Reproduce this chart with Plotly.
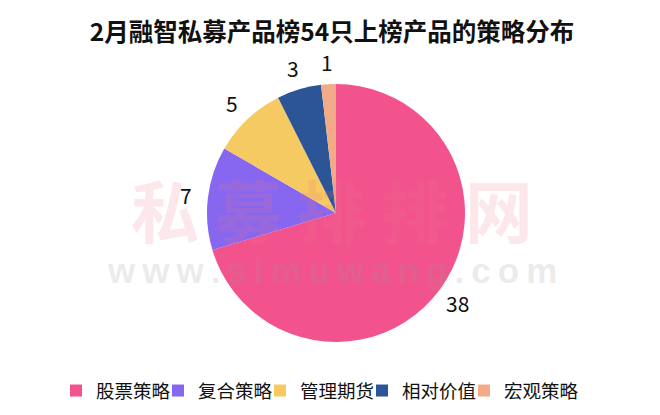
import math
import plotly.graph_objects as go

categories = ["股票策略", "复合策略", "管理期货", "相对价值", "宏观策略"]
values = [38, 7, 5, 3, 1]
colors = ["#F2538D", "#8867F0", "#F6CA62", "#2C5597", "#F3AA86"]
title = "2月融智私募产品榜54只上榜产品的策略分布"

FONT = "Noto Sans CJK SC"
H = 415
W = 660
OFF = 8  # page body margin offset


def px_x(p):
    return (p - OFF) / W


def px_y(p):
    return 1 - (p - OFF) / H


cx, cy, r = 336, 213, 129
label_r = 151

fig = go.Figure(go.Pie(
    labels=categories, values=values,
    marker=dict(colors=colors, line=dict(width=0)),
    sort=False, direction="clockwise", rotation=0,
    textinfo="none",
    domain=dict(x=[px_x(cx - r), px_x(cx + r)], y=[px_y(cy + r), px_y(cy - r)]),
    showlegend=True, hoverinfo="label+value",
))

# invisible spacer legend entry so the last legend label is not clipped
fig.add_trace(go.Scatter(x=[None], y=[None], mode="markers", name=" ",
                         marker=dict(color="rgba(0,0,0,0)", size=1), showlegend=True, hoverinfo="skip"))

# value labels placed outside each slice, at the slice's mid angle
total = sum(values)
cum = 0
for v in values:
    theta = (cum + v / 2) / total * 2 * math.pi
    cum += v
    lx = cx + label_r * math.sin(theta)
    ly = cy - label_r * math.cos(theta)
    fig.add_annotation(x=px_x(lx), y=px_y(ly), xref="paper", yref="paper", text=str(v),
                       showarrow=False, xanchor="center", yanchor="middle",
                       font=dict(size=21, color="#111111", family=FONT))

# watermark
fig.add_annotation(x=px_x(332), y=px_y(208), xref="paper", yref="paper", text="<b>私 募 排 排 网</b>",
                   showarrow=False, font=dict(size=68, color="rgba(235,110,130,0.17)", family=FONT))
fig.add_annotation(x=px_x(332), y=px_y(270), xref="paper", yref="paper",
                   text="<b>w\u2009w\u2009w\u2009.\u2009s\u2009i\u2009m\u2009u\u2009w\u2009a\u2009n\u2009g\u2009.\u2009c\u2009o\u2009m</b>",
                   showarrow=False, font=dict(size=35, color="rgba(150,150,150,0.2)", family="Liberation Sans"))

fig.update_layout(
    width=W, height=H,
    margin=dict(l=0, r=0, t=0, b=0),
    paper_bgcolor="white", plot_bgcolor="rgba(0,0,0,0)",
    xaxis=dict(visible=False), yaxis=dict(visible=False),
    title=dict(text="<b>" + title + "</b>", x=px_x(332), xanchor="center", y=px_y(32), yanchor="middle",
               font=dict(size=24.5, color="#111111", family=FONT)),
    legend=dict(orientation="h", x=px_x(56), xanchor="left", y=px_y(391), yanchor="middle",
                font=dict(size=18.5, color="#111111", family=FONT), itemwidth=30,
                entrywidth=57, entrywidthmode="pixels", bgcolor="rgba(0,0,0,0)",
                traceorder="normal"),
)

fig.write_html("out.html")
